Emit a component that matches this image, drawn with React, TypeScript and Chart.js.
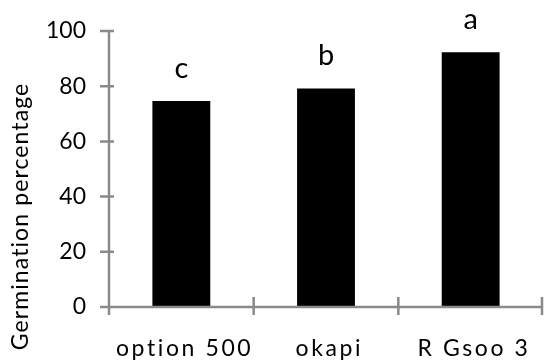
import React, { useEffect, useRef } from "react";
import { Chart, registerables } from "chart.js";

Chart.register(...registerables);

const categories = ["option 500", "okapi", "R Gsoo 3"];
const germination = [74.6, 79.2, 92.3];
const letters = ["c", "b", "a"];
const yTitle = "Germination percentage";

const FONT = "Lato, 'Open Sans', sans-serif";
const AXIS = "#8a8a8a";

const axesPlugin = {
  id: "customAxes",
  afterDraw(chart: any) {
    const ctx = chart.ctx;
    const x = chart.scales.x;
    const y = chart.scales.y;
    const left = chart.chartArea.left;
    const right = chart.chartArea.right;
    const top = y.getPixelForValue(100);
    const bottom = y.getPixelForValue(0);
    ctx.save();
    ctx.strokeStyle = AXIS;
    ctx.lineWidth = 2.5;
    ctx.beginPath();
    ctx.moveTo(left, top);
    ctx.lineTo(left, bottom + 8);
    ctx.moveTo(left, bottom);
    ctx.lineTo(right, bottom);
    for (let v = 0; v <= 100; v += 20) {
      const py = y.getPixelForValue(v);
      ctx.moveTo(left - 9, py);
      ctx.lineTo(left + (v === 0 ? 0 : 5), py);
    }
    const n = categories.length;
    for (let i = 1; i <= n; i++) {
      const px = i === n ? right - 1 : (x.getPixelForValue(i - 1) + x.getPixelForValue(i)) / 2;
      ctx.moveTo(px, bottom - 10);
      ctx.lineTo(px, bottom + 8);
    }
    ctx.stroke();

    ctx.fillStyle = "#000";
    ctx.textAlign = "center";
    ctx.textBaseline = "alphabetic";

    ctx.font = `29px ${FONT}`;
    const meta = chart.getDatasetMeta(0);
    meta.data.forEach((bar: any, i: number) => {
      ctx.fillText(letters[i], bar.x, bar.y - 23);
    });

    ctx.font = `23px ${FONT}`;
    const sp = 2.6;
    (ctx as any).letterSpacing = `${sp}px`;
    categories.forEach((c, i) => {
      ctx.fillText(c, x.getPixelForValue(i) + 2 + sp / 2, bottom + 49);
    });

    ctx.save();
    ctx.translate(28, 217);
    ctx.rotate(-Math.PI / 2);
    ctx.font = `23px ${FONT}`;
    (ctx as any).letterSpacing = "1.1px";
    ctx.fillText(yTitle, 0.5, 0);
    ctx.restore();
    (ctx as any).letterSpacing = "0px";
    ctx.restore();
  },
};

export default function App() {
  const ref = useRef<HTMLCanvasElement | null>(null);
  useEffect(() => {
    document.body.style.margin = "0";
    const chart = new Chart(ref.current as HTMLCanvasElement, {
      type: "bar",
      data: {
        labels: categories,
        datasets: [
          {
            data: germination,
            backgroundColor: "#000000",
            borderWidth: 0,
            barPercentage: 0.4,
            categoryPercentage: 1,
          },
        ],
      },
      options: {
        animation: false,
        responsive: false,
        maintainAspectRatio: false,
        layout: { padding: { top: 31, right: 1, left: 0, bottom: 0 } },
        plugins: { legend: { display: false }, tooltip: { enabled: false } },
        scales: {
          x: {
            grid: { display: false, drawTicks: false },
            border: { display: false },
            ticks: { display: false },
            afterFit: (s: any) => {
              s.height = 56;
            },
          },
          y: {
            min: 0,
            max: 100,
            grid: { display: false, drawTicks: false },
            border: { display: false },
            ticks: {
              stepSize: 20,
              color: "#000",
              font: { family: FONT, size: 23 },
              padding: 23,
            },
            afterFit: (s: any) => {
              s.width = 109;
              s.paddingTop = 0;
              s.paddingBottom = 0;
            },
          },
        },
      },
      plugins: [axesPlugin],
    });
    return () => chart.destroy();
  }, []);
  return (
    <div style={{ position: "fixed", left: 0, top: 0, width: 544, height: 363, background: "#fff" }}>
      <canvas ref={ref} width={544} height={363} style={{ width: 544, height: 363 }} />
    </div>
  );
}
